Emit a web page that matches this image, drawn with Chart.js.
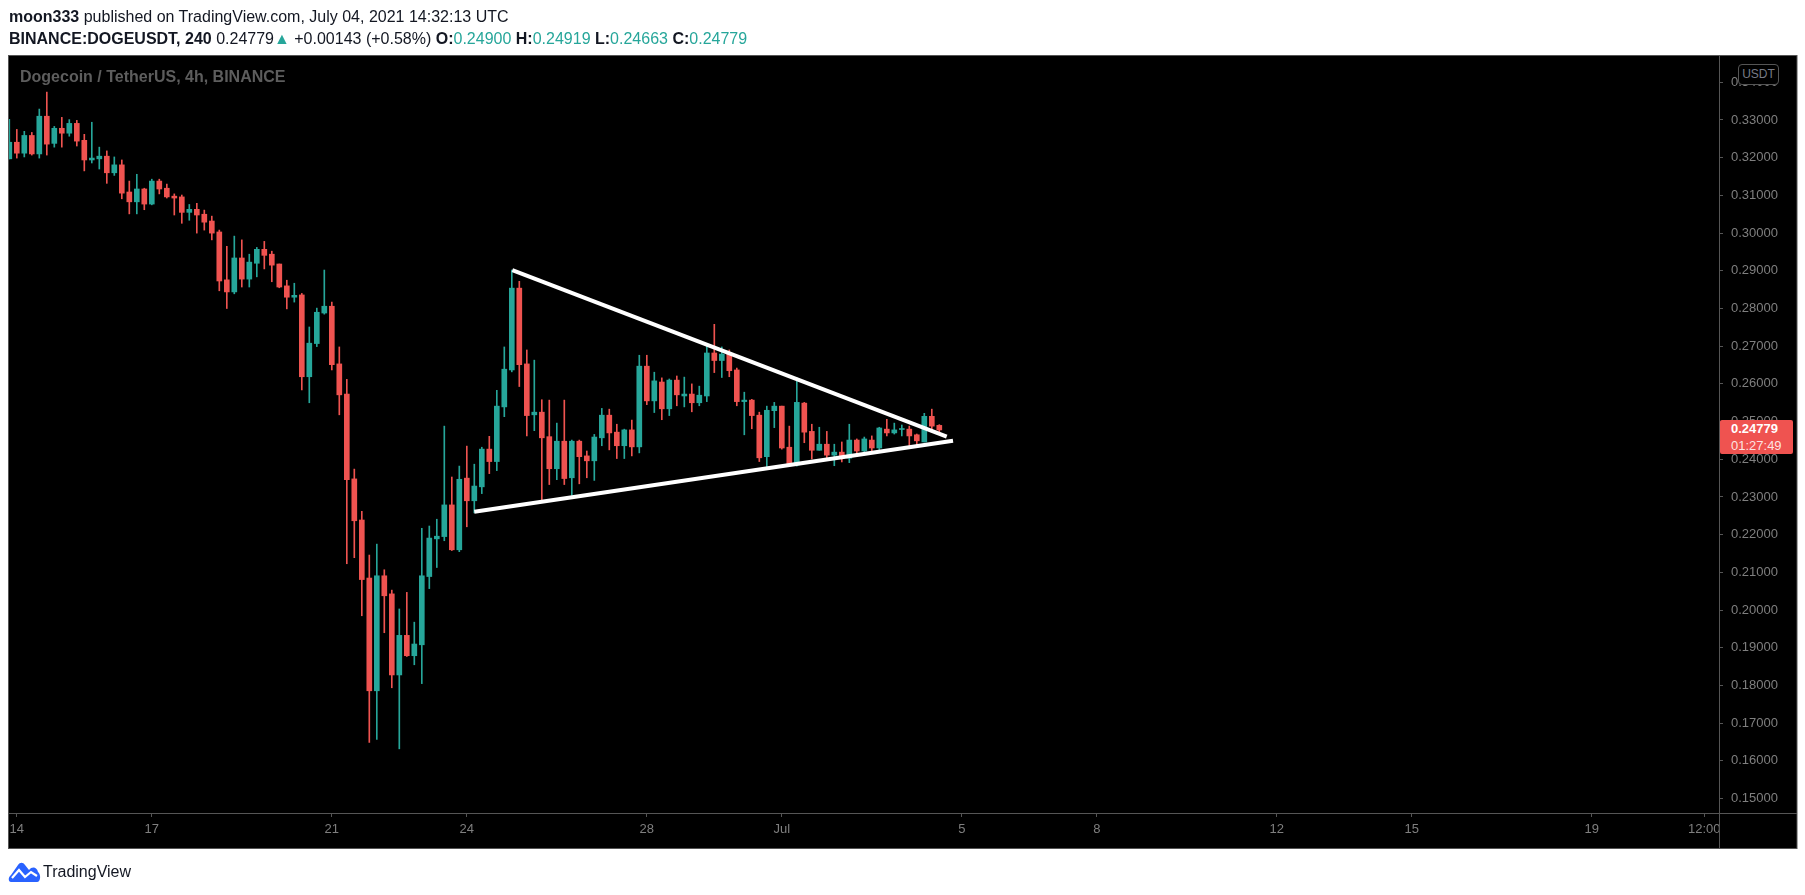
<!DOCTYPE html>
<html>
<head>
<meta charset="utf-8">
<script src="https://cdn.jsdelivr.net/npm/chart.js@4.4.0/dist/chart.umd.min.js"></script>
<style>
  html, body { margin: 0; padding: 0; background: #fff; }
  #wrap { position: relative; width: 1805px; height: 895px; overflow: hidden; font-family: "Liberation Sans", Arial, sans-serif; }
  #chart { position: absolute; left: 0; top: 0; }
  .hdr { position: absolute; left: 9px; white-space: nowrap; color: #131722; font-size: 16px; line-height: 18px; }
  .g { color: #26a69a; }
  #title { position: absolute; left: 20px; top: 68px; color: #5d5d5d; font-size: 16px; font-weight: bold; line-height: 18px; white-space: nowrap; }
  #usdt { position: absolute; left: 1738px; top: 64px; width: 39px; height: 19px; border: 1px solid #555; border-radius: 4px; background: #000; color: #787b86; font-size: 12px; line-height: 19px; text-align: center; }
  #last { position: absolute; left: 1720px; top: 420px; width: 73px; height: 34px; background: #ef5350; border-radius: 2px; color: #fff; font-size: 13px; line-height: 17px; padding-left: 11px; box-sizing: border-box; }
  #last .t { color: rgba(255,255,255,0.85); }
  #logo { position: absolute; left: 8px; top: 861px; }
  #brand { position: absolute; left: 43px; top: 862px; font-size: 16px; line-height: 20px; color: #131722; }
</style>
</head>
<body>
<div id="wrap">
  <canvas id="chart" width="1805" height="895"></canvas>
  <div class="hdr" style="top:8px"><b>moon333</b> published on TradingView.com, July 04, 2021 14:32:13 UTC</div>
  <div class="hdr" style="top:30px"><b>BINANCE:DOGEUSDT, 240</b> 0.24779<span class="g">▲</span> +0.00143 (+0.58%) <b>O:</b><span class="g">0.24900</span> <b>H:</b><span class="g">0.24919</span> <b>L:</b><span class="g">0.24663</span> <b>C:</b><span class="g">0.24779</span></div>
  <div id="title">Dogecoin / TetherUS, 4h, BINANCE</div>
  <div id="usdt">USDT</div>
  <div id="last"><b>0.24779</b><br><span class="t">01:27:49</span></div>
  <svg id="logo" width="33" height="21" viewBox="0 0 33 21">
    <path d="M3 21 C0 21 0 16 3 14 L10 4 C12 1 15 1 17 4 L21 9 C24 5 29 6 30 11 C33 13 33 21 29 21 Z" fill="#2962ff"/>
    <path d="M4 17 L11 9 L17 16 L23 11 L29 15" stroke="#fff" stroke-width="2.2" fill="none"/>
  </svg>
  <div id="brand">TradingView</div>
</div>
<script>
// 4h candles, first one Jun 13 20:00, last one Jul 4 12:00
var opens = [
  0.3197, 0.3241, 0.3212, 0.3259, 0.3210, 0.3310, 0.3238, 0.3278, 0.3265, 0.3291,
  0.3246, 0.3194, 0.3197, 0.3204, 0.3160, 0.3181, 0.3109, 0.3083, 0.3117, 0.3077,
  0.3138, 0.3119, 0.3098, 0.3096, 0.3055, 0.3063, 0.3050, 0.3032, 0.3003, 0.2876,
  0.2844, 0.2934, 0.2878, 0.2920, 0.2957, 0.2944, 0.2918, 0.2860, 0.2830, 0.2836,
  0.2619, 0.2707, 0.2788, 0.2806, 0.2653, 0.2573, 0.2348, 0.2239, 0.2085, 0.1786,
  0.2091, 0.2043, 0.1828, 0.1933, 0.1879, 0.1908, 0.2089, 0.2189, 0.2195, 0.2279,
  0.2160, 0.2350, 0.2290, 0.2327, 0.2427, 0.2394, 0.2539, 0.2637, 0.2854, 0.2653,
  0.2518, 0.2525, 0.2460, 0.2375, 0.2448, 0.2351, 0.2448, 0.2409, 0.2396, 0.2457,
  0.2517, 0.2472, 0.2436, 0.2478, 0.2433, 0.2647, 0.2555, 0.2605, 0.2534, 0.2610,
  0.2568, 0.2573, 0.2550, 0.2568, 0.2682, 0.2662, 0.2679, 0.2637, 0.2553, 0.2557,
  0.2517, 0.2407, 0.2529, 0.2541, 0.2432, 0.2385, 0.2549, 0.2474, 0.2424, 0.2440,
  0.2411, 0.2419, 0.2403, 0.2451, 0.2422, 0.2451, 0.2430, 0.2480, 0.2470, 0.2479,
  0.2480, 0.2465, 0.2446, 0.2514, 0.24900
];
var highs = [
  0.3302, 0.3275, 0.3270, 0.3267, 0.3329, 0.3374, 0.3283, 0.3307, 0.3301, 0.3299,
  0.3262, 0.3294, 0.3228, 0.3218, 0.3202, 0.3194, 0.3138, 0.3156, 0.3119, 0.3143,
  0.3143, 0.3130, 0.3104, 0.3101, 0.3076, 0.3079, 0.3061, 0.3045, 0.3008, 0.2965,
  0.2992, 0.2982, 0.2944, 0.2962, 0.2978, 0.2952, 0.2918, 0.2875, 0.2867, 0.2840,
  0.2751, 0.2801, 0.2902, 0.2817, 0.2698, 0.2612, 0.2374, 0.2262, 0.2146, 0.2175,
  0.2107, 0.2053, 0.2003, 0.2047, 0.1968, 0.2217, 0.2223, 0.2241, 0.2488, 0.2353,
  0.2382, 0.2435, 0.2387, 0.2432, 0.2461, 0.2583, 0.2698, 0.2902, 0.2872, 0.2690,
  0.2663, 0.2558, 0.2557, 0.2496, 0.2557, 0.2451, 0.2451, 0.2422, 0.2466, 0.2535,
  0.2533, 0.2493, 0.2480, 0.2504, 0.2676, 0.2676, 0.2631, 0.2616, 0.2613, 0.2621,
  0.2618, 0.2600, 0.2594, 0.2700, 0.2758, 0.2698, 0.2690, 0.2642, 0.2578, 0.2559,
  0.2525, 0.2541, 0.2551, 0.2541, 0.2488, 0.2616, 0.2551, 0.2493, 0.2485, 0.2474,
  0.2440, 0.2446, 0.2493, 0.2454, 0.2459, 0.2462, 0.2485, 0.2506, 0.2496, 0.2491,
  0.2488, 0.2467, 0.2522, 0.2533, 0.24919
];
var lows = [
  0.3197, 0.3199, 0.3202, 0.3207, 0.3199, 0.3207, 0.3228, 0.3228, 0.3257, 0.3231,
  0.3165, 0.3186, 0.3170, 0.3132, 0.3153, 0.3091, 0.3051, 0.3051, 0.3062, 0.3075,
  0.3104, 0.3093, 0.3048, 0.3026, 0.3034, 0.3000, 0.3008, 0.2982, 0.2847, 0.2800,
  0.2839, 0.2857, 0.2857, 0.2884, 0.2905, 0.2871, 0.2855, 0.2799, 0.2817, 0.2584,
  0.2550, 0.2699, 0.2785, 0.2637, 0.2518, 0.2123, 0.2139, 0.1985, 0.1649, 0.1657,
  0.1940, 0.1794, 0.1632, 0.1877, 0.1855, 0.1805, 0.2057, 0.2113, 0.2184, 0.2158,
  0.2155, 0.2221, 0.2258, 0.2309, 0.2362, 0.2370, 0.2513, 0.2632, 0.2593, 0.2462,
  0.2476, 0.2288, 0.2333, 0.2346, 0.2333, 0.2304, 0.2335, 0.2351, 0.2344, 0.2436,
  0.2425, 0.2402, 0.2402, 0.2409, 0.2417, 0.2545, 0.2524, 0.2505, 0.2516, 0.2542,
  0.2539, 0.2526, 0.2542, 0.2553, 0.2630, 0.2617, 0.2619, 0.2542, 0.2465, 0.2481,
  0.2394, 0.2378, 0.2484, 0.2427, 0.2382, 0.2382, 0.2444, 0.2401, 0.2424, 0.2401,
  0.2383, 0.2393, 0.2391, 0.2409, 0.2411, 0.2419, 0.2422, 0.2462, 0.2467, 0.2462,
  0.2430, 0.2433, 0.2446, 0.2475, 0.24663
];
var closes = [
  0.3241, 0.3212, 0.3259, 0.3210, 0.3310, 0.3236, 0.3278, 0.3265, 0.3291, 0.3244,
  0.3194, 0.3199, 0.3204, 0.3160, 0.3181, 0.3106, 0.3083, 0.3117, 0.3077, 0.3138,
  0.3117, 0.3096, 0.3093, 0.3055, 0.3063, 0.3048, 0.3029, 0.3000, 0.2873, 0.2844,
  0.2934, 0.2878, 0.2923, 0.2957, 0.2941, 0.2915, 0.2857, 0.2830, 0.2835, 0.2619,
  0.2708, 0.2790, 0.2806, 0.2651, 0.2571, 0.2346, 0.2237, 0.2081, 0.1786, 0.2091,
  0.2038, 0.1828, 0.1933, 0.1879, 0.1910, 0.2091, 0.2191, 0.2196, 0.2279, 0.2160,
  0.2347, 0.2290, 0.2329, 0.2427, 0.2394, 0.2541, 0.2639, 0.2854, 0.2651, 0.2516,
  0.2525, 0.2457, 0.2375, 0.2448, 0.2349, 0.2448, 0.2407, 0.2396, 0.2459, 0.2517,
  0.2470, 0.2436, 0.2478, 0.2433, 0.2647, 0.2555, 0.2608, 0.2534, 0.2610, 0.2571,
  0.2573, 0.2550, 0.2570, 0.2682, 0.2662, 0.2679, 0.2635, 0.2553, 0.2557, 0.2516,
  0.2404, 0.2530, 0.2541, 0.2430, 0.2385, 0.2551, 0.2472, 0.2424, 0.2440, 0.2411,
  0.2419, 0.2403, 0.2451, 0.2422, 0.2454, 0.2430, 0.2483, 0.2470, 0.2478, 0.2480,
  0.2462, 0.2449, 0.2514, 0.2488, 0.24779
];

// hand-drawn triangle, in candle index / price units
var upperTrend = [{ x: 67.07, y: 0.2902 }, { x: 124.99, y: 0.2460 }];
var lowerTrend = [{ x: 62.0, y: 0.2261 }, { x: 125.83, y: 0.2449 }];

var dayTicks = [1, 19, 43, 61, 85, 103, 127, 145, 169, 187, 211, 226];
var dayLabels = ['14', '17', '21', '24', '28', 'Jul', '5', '8', '12', '15', '19', '12:00'];
var priceTicks = [0.15, 0.16, 0.17, 0.18, 0.19, 0.20, 0.21, 0.22, 0.23, 0.24,
                  0.25, 0.26, 0.27, 0.28, 0.29, 0.30, 0.31, 0.32, 0.33, 0.34];

var UP = '#26a69a', DOWN = '#ef5350', AXIS = '#555555', TEXT = '#7f7f7f';

var colors = opens.map(function (o, i) { return closes[i] >= o ? UP : DOWN; });
var wickData = opens.map(function (o, i) { return { x: i, y: [lows[i], highs[i]] }; });
var bodyData = opens.map(function (o, i) { return { x: i, y: [o, closes[i]] }; });

var frame = {
  id: 'frame',
  beforeDraw: function (chart) {
    var c = chart.ctx;
    c.save();
    c.fillStyle = '#000';
    c.fillRect(8.5, 55, 1788.5, 793.5);
    c.restore();
  },
  afterDraw: function (chart) {
    var c = chart.ctx;
    var a = chart.chartArea;
    c.save();
    c.strokeStyle = AXIS;
    c.lineWidth = 1;
    c.beginPath();
    c.moveTo(a.right + 0.5, a.top); c.lineTo(a.right + 0.5, 848);
    c.moveTo(a.left, a.bottom + 0.5); c.lineTo(1797, a.bottom + 0.5);
    c.stroke();
    c.strokeRect(8.5, 55.5, 1788.5, 793);
    c.restore();
  }
};

new Chart(document.getElementById('chart'), {
  type: 'bar',
  data: {
    datasets: [
      { type: 'line', data: upperTrend, borderColor: '#ffffff', borderWidth: 4, pointRadius: 0, fill: false, order: 0 },
      { type: 'line', data: lowerTrend, borderColor: '#ffffff', borderWidth: 4, pointRadius: 0, fill: false, order: 0 },
      { data: bodyData, backgroundColor: colors, barThickness: 5, minBarLength: 1, grouped: false, order: 1 },
      { data: wickData, backgroundColor: colors, barThickness: 1, grouped: false, order: 2 }
    ]
  },
  options: {
    responsive: false,
    animation: false,
    layout: { padding: { left: 9, top: 55, right: 8, bottom: 47 } },
    plugins: { legend: { display: false }, tooltip: { enabled: false } },
    scales: {
      x: {
        type: 'linear',
        min: -0.04,
        max: 227.96,
        offset: false,
        afterBuildTicks: function (s) { s.ticks = dayTicks.map(function (v) { return { value: v }; }); },
        afterFit: function (s) { s.height = 35; },
        ticks: {
          autoSkip: false, maxRotation: 0, color: TEXT, padding: 5,
          font: { family: 'Liberation Sans, Arial, sans-serif', size: 13 },
          callback: function (v, i) { return dayLabels[i]; }
        },
        grid: { drawOnChartArea: false, offset: false, tickLength: 4, color: AXIS },
        border: { display: true, color: AXIS }
      },
      y: {
        type: 'linear',
        position: 'right',
        min: 0.14618,
        max: 0.347241,
        afterBuildTicks: function (s) { s.ticks = priceTicks.map(function (v) { return { value: v }; }); },
        afterFit: function (s) { s.width = 78; },
        ticks: {
          color: TEXT, padding: 8,
          font: { family: 'Liberation Sans, Arial, sans-serif', size: 13 },
          callback: function (v) { return v.toFixed(5); }
        },
        grid: { drawOnChartArea: false, tickLength: 4, color: AXIS },
        border: { display: true, color: AXIS }
      }
    }
  },
  plugins: [frame]
});
</script>
</body>
</html>
